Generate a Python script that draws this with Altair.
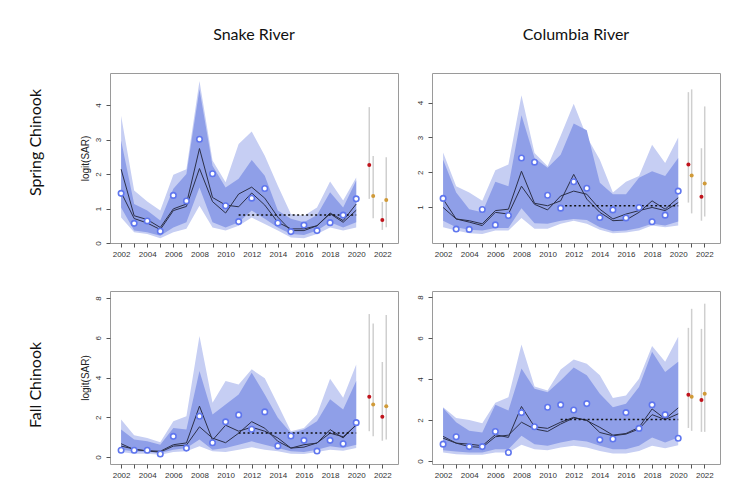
import altair as alt
import pandas as pd

YEARS = list(range(2002, 2021))
FC_YEARS = [2021, 2022]
X_TICKS = list(range(2002, 2023))
MEAN_SPAN = [2011, 2020]

# ---------------- Snake River, Spring Chinook ----------------
SR_SP_OUT_HI = [3.69, 1.52, 1.20, 0.94, 1.98, 2.14, 4.70, 2.39, 1.76, 2.87, 3.23, 2.53, 1.66, 0.84, 0.79, 1.03, 1.78, 1.23, 1.90]
SR_SP_IN_HI = [2.97, 1.13, 0.94, 0.65, 1.57, 2.00, 4.46, 2.24, 1.61, 1.86, 2.41, 1.95, 0.94, 0.70, 0.60, 0.81, 1.47, 1.03, 1.81]
SR_SP_IN_LO = [1.03, 0.36, 0.31, 0.21, 0.45, 0.60, 1.61, 0.60, 0.45, 0.60, 0.94, 0.70, 0.45, 0.26, 0.23, 0.36, 0.60, 0.45, 0.60]
SR_SP_OUT_LO = [0.74, 0.31, 0.26, 0.14, 0.31, 0.41, 1.08, 0.45, 0.36, 0.50, 0.74, 0.55, 0.36, 0.16, 0.14, 0.26, 0.45, 0.36, 0.45]
SR_SP_LINE_A = [2.14, 0.79, 0.68, 0.45, 0.99, 1.13, 2.74, 1.32, 1.10, 1.05, 1.45, 1.10, 0.60, 0.41, 0.41, 0.50, 0.87, 0.65, 1.13]
SR_SP_LINE_B = [1.47, 0.71, 0.58, 0.39, 0.94, 1.06, 2.16, 1.20, 0.87, 1.42, 1.62, 1.30, 0.75, 0.36, 0.36, 0.50, 0.85, 0.60, 0.95]
SR_SP_OBS = [1.44, 0.57, 0.64, 0.34, 1.38, 1.22, 3.01, 2.01, 1.08, 0.62, 1.30, 1.58, 0.58, 0.33, 0.52, 0.36, 0.59, 0.81, 1.28]
SR_SP_MEAN = 0.81
SR_SP_FC1 = [2.26, 0.67]
SR_SP_FC1_LO = [1.28, 0.38]
SR_SP_FC1_HI = [3.94, 1.19]
SR_SP_FC2 = [1.36, 1.25]
SR_SP_FC2_LO = [0.72, 0.46]
SR_SP_FC2_HI = [2.52, 2.49]

# ---------------- Columbia River, Spring Chinook ----------------
CR_SP_OUT_HI = [2.57, 1.60, 1.42, 1.18, 2.06, 2.22, 4.21, 2.55, 2.17, 3.05, 3.97, 3.02, 2.36, 1.42, 1.73, 1.89, 2.79, 2.27, 3.00]
CR_SP_IN_HI = [2.36, 1.42, 0.94, 0.85, 1.73, 1.60, 3.64, 2.41, 2.13, 2.50, 3.40, 3.21, 1.70, 1.37, 1.37, 1.84, 2.03, 1.89, 2.41]
CR_SP_IN_LO = [0.61, 0.42, 0.35, 0.33, 0.40, 0.40, 0.97, 0.54, 0.52, 0.61, 0.66, 0.63, 0.42, 0.31, 0.33, 0.40, 0.52, 0.47, 0.59]
CR_SP_OUT_LO = [0.42, 0.33, 0.25, 0.23, 0.33, 0.33, 0.69, 0.38, 0.38, 0.52, 0.61, 0.52, 0.35, 0.25, 0.27, 0.33, 0.47, 0.42, 0.47]
CR_SP_LINE_A = [1.23, 0.66, 0.61, 0.52, 0.90, 0.94, 2.03, 1.11, 1.04, 1.18, 1.94, 1.23, 0.85, 0.61, 0.63, 0.85, 1.18, 0.94, 1.27]
CR_SP_LINE_B = [0.99, 0.66, 0.57, 0.47, 0.85, 0.80, 1.60, 1.08, 0.92, 1.32, 1.46, 1.37, 0.94, 0.66, 0.80, 0.90, 0.99, 0.90, 1.13]
CR_SP_OBS = [1.25, 0.37, 0.36, 0.93, 0.49, 0.76, 2.41, 2.29, 1.34, 0.97, 1.73, 1.54, 0.70, 0.92, 0.69, 0.99, 0.58, 0.77, 1.46]
CR_SP_MEAN = 1.04
CR_SP_FC1 = [2.22, 1.30]
CR_SP_FC1_LO = [1.13, 0.61]
CR_SP_FC1_HI = [4.30, 2.69]
CR_SP_FC2 = [1.91, 1.68]
CR_SP_FC2_LO = [0.82, 0.73]
CR_SP_FC2_HI = [4.38, 3.89]

# ---------------- Snake River, Fall Chinook ----------------
SR_FA_OUT_HI = [1.89, 1.09, 0.96, 0.74, 1.80, 2.05, 6.09, 2.73, 3.82, 3.65, 4.41, 3.96, 2.64, 1.30, 1.46, 2.14, 3.94, 2.98, 4.66]
SR_FA_IN_HI = [1.38, 0.88, 0.79, 0.62, 1.46, 1.38, 4.33, 2.14, 2.64, 3.15, 4.24, 3.15, 1.97, 1.21, 1.38, 1.80, 2.90, 2.39, 3.82]
SR_FA_IN_LO = [0.37, 0.29, 0.25, 0.20, 0.37, 0.45, 0.88, 0.37, 0.45, 0.62, 0.79, 0.62, 0.45, 0.29, 0.25, 0.37, 0.54, 0.45, 0.62]
SR_FA_OUT_LO = [0.25, 0.17, 0.17, 0.12, 0.25, 0.29, 0.54, 0.29, 0.25, 0.37, 0.49, 0.37, 0.29, 0.17, 0.15, 0.25, 0.37, 0.32, 0.45]
SR_FA_LINE_A = [0.67, 0.37, 0.32, 0.29, 0.62, 0.71, 2.56, 0.85, 1.60, 1.30, 1.50, 1.30, 0.96, 0.45, 0.62, 0.70, 1.38, 0.96, 1.63]
SR_FA_LINE_B = [0.55, 0.40, 0.30, 0.25, 0.55, 0.60, 1.52, 0.95, 0.72, 1.20, 1.78, 1.45, 0.79, 0.45, 0.50, 0.71, 1.20, 1.02, 1.60]
SR_FA_OBS = [0.34, 0.34, 0.34, 0.15, 1.04, 0.45, 2.05, 0.72, 1.77, 2.12, 1.40, 2.27, 0.56, 1.06, 0.84, 0.30, 0.84, 0.67, 1.73]
SR_FA_MEAN = 1.21
SR_FA_FC1 = [3.03, 2.02]
SR_FA_FC1_LO = [1.30, 0.82]
SR_FA_FC1_HI = [7.19, 4.78]
SR_FA_FC2 = [2.64, 2.56]
SR_FA_FC2_LO = [1.04, 0.88]
SR_FA_FC2_HI = [6.72, 7.14]

# ---------------- Columbia River, Fall Chinook ----------------
CR_FA_OUT_HI = [2.62, 2.10, 2.00, 1.84, 2.84, 3.11, 5.69, 3.64, 3.44, 4.46, 4.95, 4.75, 4.18, 3.07, 3.20, 4.02, 5.61, 4.84, 6.07]
CR_FA_IN_HI = [2.59, 1.89, 1.48, 1.39, 2.75, 2.46, 4.51, 3.52, 3.36, 3.93, 4.56, 4.18, 3.28, 2.62, 2.79, 3.61, 5.33, 4.34, 4.84]
CR_FA_IN_LO = [0.52, 0.46, 0.41, 0.41, 0.57, 0.57, 1.23, 0.82, 0.74, 0.90, 1.02, 0.95, 0.74, 0.57, 0.57, 0.74, 1.15, 0.90, 1.15]
CR_FA_OUT_LO = [0.41, 0.33, 0.30, 0.30, 0.41, 0.41, 0.79, 0.57, 0.52, 0.66, 0.74, 0.66, 0.49, 0.36, 0.36, 0.49, 0.74, 0.62, 0.77]
CR_FA_LINE_A = [1.20, 0.87, 0.82, 0.74, 1.28, 1.15, 2.66, 1.67, 1.59, 1.89, 2.13, 1.97, 1.64, 1.26, 1.34, 1.64, 2.54, 2.05, 2.59]
CR_FA_LINE_B = [1.11, 0.87, 0.70, 0.66, 1.18, 1.26, 1.89, 1.56, 1.44, 1.80, 2.10, 2.00, 1.39, 1.23, 1.31, 1.56, 2.26, 2.02, 2.30]
CR_FA_OBS = [0.82, 1.18, 0.70, 0.70, 1.44, 0.41, 2.36, 1.67, 2.62, 2.74, 2.49, 2.80, 1.03, 1.07, 2.36, 1.59, 2.74, 2.26, 1.11]
CR_FA_MEAN = 2.02
CR_FA_FC1 = [3.23, 2.98]
CR_FA_FC1_LO = [1.61, 1.42]
CR_FA_FC1_HI = [6.50, 6.45]
CR_FA_FC2 = [3.13, 3.28]
CR_FA_FC2_LO = [1.47, 1.42]
CR_FA_FC2_HI = [7.43, 7.68]

# ---------------- styling ----------------
LIGHT = "#c6cef3"
DARK = "#8f9fe8"
LINE_COL = "#2c3048"
PT_STROKE = "#5f76ee"
RED = "#c0141c"
GOLD = "#d09a38"
FC_GREY = "#cfcfcf"
XDOM = [2001.15, 2023.2]
PANEL_W = 288
TITLE_FONT = "Lato"
TICK_FONT = "Liberation Sans"


def make_panel(out_hi, in_hi, in_lo, out_lo, line_a, line_b, obs, mean,
               fc1, fc1_lo, fc1_hi, fc2, fc2_lo, fc2_hi,
               ydom, yticks, ytitle, height, shifts, title=None):
    df = pd.DataFrame({
        "year": YEARS, "out_hi": out_hi, "in_hi": in_hi, "in_lo": in_lo,
        "out_lo": out_lo, "a": line_a, "b": line_b, "obs": obs,
    })
    lines = df.melt(id_vars=["year"], value_vars=["a", "b"], var_name="fit", value_name="v")
    mean_df = pd.DataFrame({"x0": [MEAN_SPAN[0]], "x1": [MEAN_SPAN[1]], "m": [mean]})
    fc = pd.DataFrame({
        "year": FC_YEARS + FC_YEARS,
        "model": ["m1", "m1", "m2", "m2"],
        "est": fc1 + fc2,
        "lo": fc1_lo + fc2_lo,
        "hi": fc1_hi + fc2_hi,
    })
    fc["xpos"] = fc["year"] + fc["model"].map({"m1": shifts[0], "m2": shifts[1]})

    xaxis = alt.Axis(values=X_TICKS, labelExpr="datum.value % 2 == 0 ? format(datum.value, 'd') : ''",
                     title=None, grid=False, domain=False, tickSize=4, tickColor="#555",
                     labelFont=TICK_FONT, labelFontSize=8, labelColor="#333", labelPadding=3,
                     labelFlush=False, labelOverlap=False)
    yaxis = alt.Axis(values=yticks, format="d", title=ytitle, grid=False, domain=False,
                     tickSize=4, tickColor="#555", labelAngle=270, labelAlign="center",
                     labelBaseline="bottom", labelFont=TICK_FONT, labelFontSize=8,
                     labelColor="#333", labelPadding=4, titleFont=TICK_FONT, titleFontSize=10,
                     titleFontWeight="normal", titleColor="#222", titlePadding=4)
    xs = alt.Scale(domain=XDOM, nice=False, zero=False)
    ys = alt.Scale(domain=ydom, nice=False, zero=False)

    def X(field):
        return alt.X(field, scale=xs, axis=xaxis)

    def Y(field):
        return alt.Y(field, scale=ys, axis=yaxis)

    outer = alt.Chart(df).mark_area(color=LIGHT, opacity=1).encode(
        x=X("year:Q"), y=Y("out_lo:Q"), y2="out_hi:Q")
    inner = alt.Chart(df).mark_area(color=DARK, opacity=1).encode(
        x=X("year:Q"), y=Y("in_lo:Q"), y2="in_hi:Q")
    fit = alt.Chart(lines).mark_line(color=LINE_COL, strokeWidth=1).encode(
        x=X("year:Q"), y=Y("v:Q"), detail="fit:N")
    mean_rule = alt.Chart(mean_df).mark_rule(color="#111", strokeWidth=1.5, strokeDash=[2, 2.5]).encode(
        x=X("x0:Q"), x2="x1:Q", y=Y("m:Q"))
    pts = alt.Chart(df).mark_point(shape="circle", filled=True, fill="white", stroke=PT_STROKE,
                                   strokeWidth=1.6, size=30, opacity=1).encode(
        x=X("year:Q"), y=Y("obs:Q"))
    fc_rules = alt.Chart(fc).mark_rule(color=FC_GREY, strokeWidth=1.5).encode(
        x=X("xpos:Q"), y=Y("lo:Q"), y2="hi:Q")
    fc_pts = alt.Chart(fc).mark_point(shape="circle", filled=True, size=16, opacity=1).encode(
        x=X("xpos:Q"), y=Y("est:Q"),
        color=alt.Color("model:N", scale=alt.Scale(domain=["m1", "m2"], range=[RED, GOLD]), legend=None))

    layer = alt.layer(outer, inner, fit, mean_rule, pts, fc_rules, fc_pts)
    if title is not None:
        layer = layer.properties(title=alt.TitleParams(
            title, font=TITLE_FONT, fontSize=16, fontWeight="normal", color="#111",
            anchor="middle", offset=30))
    return layer.properties(width=PANEL_W, height=height)


SNAKE_SHIFT = [0.0, 0.3]
COL_SHIFT = [-0.22, 0.03]

p1 = make_panel(SR_SP_OUT_HI, SR_SP_IN_HI, SR_SP_IN_LO, SR_SP_OUT_LO, SR_SP_LINE_A, SR_SP_LINE_B,
                SR_SP_OBS, SR_SP_MEAN, SR_SP_FC1, SR_SP_FC1_LO, SR_SP_FC1_HI,
                SR_SP_FC2, SR_SP_FC2_LO, SR_SP_FC2_HI,
                [0, 4.93], [0, 1, 2, 3, 4], "logit(SAR)", 170, SNAKE_SHIFT, "Snake River")
p2 = make_panel(CR_SP_OUT_HI, CR_SP_IN_HI, CR_SP_IN_LO, CR_SP_OUT_LO, CR_SP_LINE_A, CR_SP_LINE_B,
                CR_SP_OBS, CR_SP_MEAN, CR_SP_FC1, CR_SP_FC1_LO, CR_SP_FC1_HI,
                CR_SP_FC2, CR_SP_FC2_LO, CR_SP_FC2_HI,
                [-0.03, 4.85], [1, 2, 3, 4], None, 170, COL_SHIFT, "Columbia River")
p3 = make_panel(SR_FA_OUT_HI, SR_FA_IN_HI, SR_FA_IN_LO, SR_FA_OUT_LO, SR_FA_LINE_A, SR_FA_LINE_B,
                SR_FA_OBS, SR_FA_MEAN, SR_FA_FC1, SR_FA_FC1_LO, SR_FA_FC1_HI,
                SR_FA_FC2, SR_FA_FC2_LO, SR_FA_FC2_HI,
                [-0.35, 8.35], [0, 2, 4, 6, 8], "logit(SAR)", 173, SNAKE_SHIFT)
p4 = make_panel(CR_FA_OUT_HI, CR_FA_IN_HI, CR_FA_IN_LO, CR_FA_OUT_LO, CR_FA_LINE_A, CR_FA_LINE_B,
                CR_FA_OBS, CR_FA_MEAN, CR_FA_FC1, CR_FA_FC1_LO, CR_FA_FC1_HI,
                CR_FA_FC2, CR_FA_FC2_LO, CR_FA_FC2_HI,
                [-0.15, 8.3], [0, 2, 4, 6, 8], None, 173, COL_SHIFT)


def row_title(text):
    return alt.TitleParams(text, orient="left", anchor="middle", font=TITLE_FONT, fontSize=16,
                           fontWeight="normal", color="#111", offset=36)


row1 = alt.hconcat(p1, p2, spacing=34, bounds="flush", title=row_title("Spring Chinook"))
row2 = alt.hconcat(p3, p4, spacing=34, bounds="flush", title=row_title("Fall Chinook"))

chart = alt.vconcat(row1, row2, spacing=31).properties(
    padding={"left": 27, "top": 26, "right": 5, "bottom": 5},
    background="white",
).configure_view(stroke="#9a9a9a", strokeWidth=1)

chart.save("out.html", embed_options={"renderer": "svg", "actions": False})
